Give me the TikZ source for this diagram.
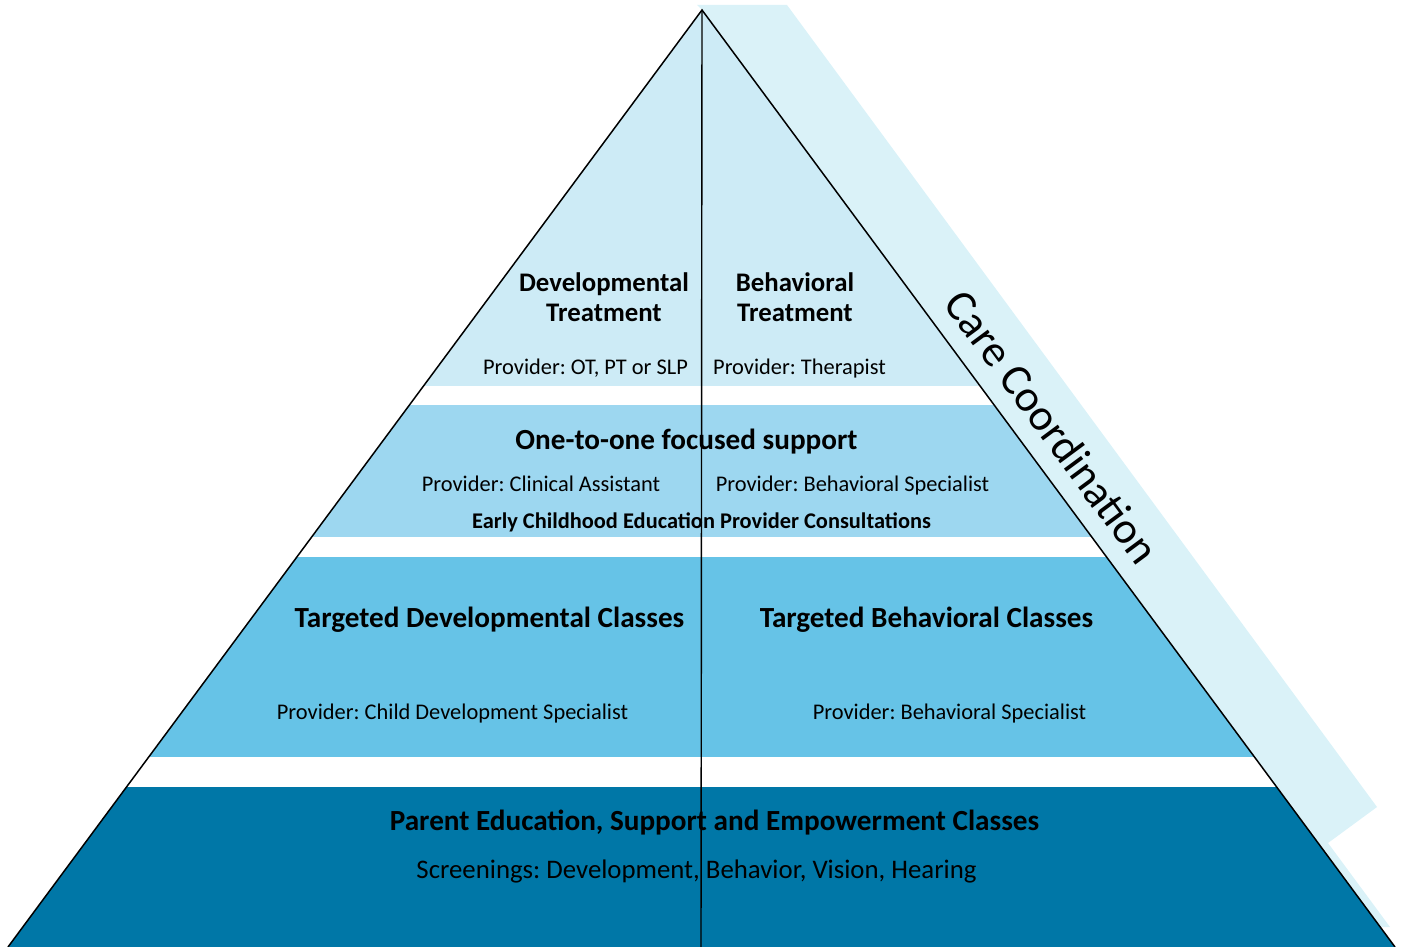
\documentclass[tikz,border=0pt]{standalone}
\usepackage{fontspec}
\setmainfont{Carlito}
\frenchspacing
\definecolor{bandA}{HTML}{CDEBF6}
\definecolor{bandB}{HTML}{9DD7F0}
\definecolor{bandC}{HTML}{66C3E7}
\definecolor{bandD}{HTML}{0077A7}
\definecolor{stripc}{HTML}{DAF2F8}
\tikzset{
  txt/.style={inner sep=0pt, anchor=base, text=black},
  reg/.style={txt, font=\fontsize{22.4}{26}\selectfont},
  hd/.style={txt, font=\bfseries\fontsize{26.8}{30.5}\selectfont},
  big/.style={txt, font=\bfseries\fontsize{29.2}{34}\selectfont},
  edge/.style={draw=black, line width=1.5pt},
}
\begin{document}
\begin{tikzpicture}[x=1pt,y=-1pt]
\useasboundingbox (0,0) rectangle (1403,947);
\coordinate (apex) at (702,10);
\coordinate (bl) at (8,947);
\coordinate (br) at (1395,947);
\coordinate (vb) at (701,947);
% care coordination strip
\fill[stripc] (697,5) -- (787,5) -- (1377,807) -- (1328,843) -- (1390,927) -- (1381,927) -- (apex) -- cycle;
% bands clipped to the triangle
\begin{scope}
\clip (apex) -- (br) -- (bl) -- cycle;
\fill[bandA] (0,0) rectangle (1403,386);
\fill[bandB] (0,405) rectangle (1403,537);
\fill[bandC] (0,557) rectangle (1403,757);
\fill[bandD] (0,787) rectangle (1403,947);
\end{scope}
\draw[edge] (bl) -- (apex) -- (br);
\draw[black, line width=1.4pt] (apex) -- (vb);
% texts
\node[hd] (dt1) at (604,291) {Developmental};
\node[hd] (dt2) at (604,321) {Treatment};
\node[hd] (bt1) at (795,291) {Behavioral};
\node[hd] (bt2) at (795,321) {Treatment};
\node[reg] (p1) at (585.5,374) {Provider: OT, PT or SLP};
\node[reg] (p2) at (799.5,374) {Provider: Therapist};
\node[big] (one) at (686.5,449.5) {One-to-one focused support};
\node[reg] (p3) at (541,491) {Provider: Clinical Assistant};
\node[reg] (p4) at (852.5,491) {Provider: Behavioral Specialist};
\node[txt, font=\bfseries\fontsize{22.4}{26}\selectfont] (ece) at (701.5,528) {Early Childhood Education Provider Consultations};
\node[big] (tdc) at (489.5,627.5) {Targeted Developmental Classes};
\node[big] (tbc) at (926.5,627.5) {Targeted Behavioral Classes};
\node[reg] (p5) at (452.5,719) {Provider: Child Development Specialist};
\node[reg] (p6) at (949.5,719) {Provider: Behavioral Specialist};
\node[big] (pe) at (714.5,830.5) {Parent Education, Support and Empowerment Classes};
\node[txt, font=\fontsize{26.8}{30}\selectfont] (scr) at (696.5,878.5) {Screenings: Development, Behavior, Vision, Hearing};
\node[txt, anchor=center, font=\fontsize{44.5}{50}\selectfont, rotate=-53.5] (cc) at (1052,427) {Care Coordination};
\end{tikzpicture}
\end{document}
